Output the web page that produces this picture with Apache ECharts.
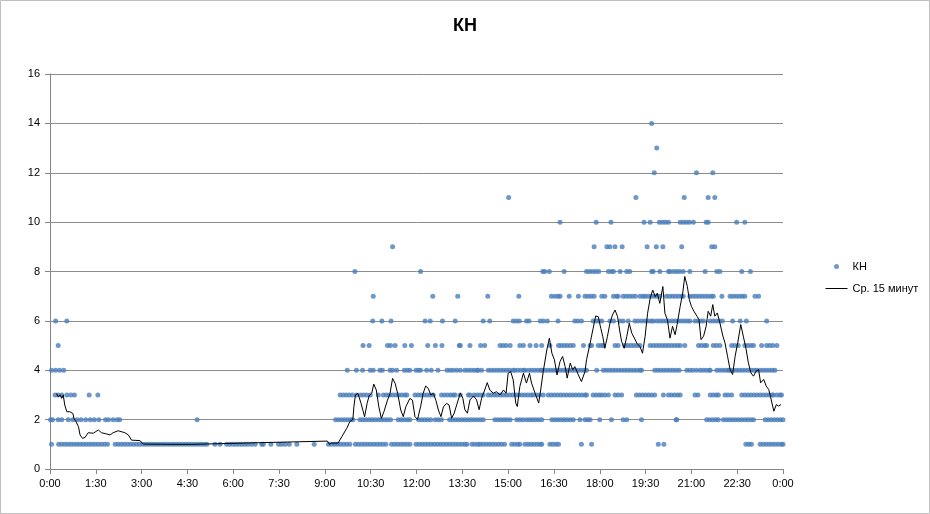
<!DOCTYPE html>
<html>
<head>
    <meta charset="utf-8">
    <title>КН</title>
    <script src="https://cdn.jsdelivr.net/npm/echarts@6/dist/echarts.min.js"></script>
</head>
<body style="margin:0">
<div id="main" style="width: 930px;height:514px;"></div>
<script type="text/javascript">
    // время в минутах от 0:00, по уровням значения КН
    var lv1 = [3, 17, 23, 29, 35, 41, 47, 53, 59, 65, 71, 77, 83, 89, 95, 101, 107, 113, 128, 134, 140, 146, 152, 158, 164, 170,
        176, 182, 188, 194, 200, 206, 212, 218, 224, 230, 236, 242, 248, 254, 260, 266, 272, 278, 284, 290, 296, 302, 308,
        324, 334, 347, 353, 359, 365, 371, 377, 383, 389, 396, 403, 416, 419, 434, 449, 455, 462, 470, 485, 519,
        547, 553, 559, 565, 571, 577, 583, 589, 600, 606, 612, 618, 624, 630, 636, 642, 648, 654, 660,
        671, 677, 683, 689, 695, 701, 707, 719, 725, 731, 737, 743, 749, 755, 761, 767, 773, 779, 785, 791, 797, 803,
        809, 815, 819, 829, 835, 841, 845, 851, 857, 863, 869, 875, 881, 887, 893, 907, 913, 919, 923,
        933, 939, 945, 951, 957, 963, 966, 982, 988, 994, 999, 1044, 1064, 1195, 1206,
        1367, 1373, 1378, 1395, 1401, 1407, 1413, 1419, 1425, 1431, 1437, 1440];
    var lv2 = [1, 5, 16, 23, 36, 45, 53, 61, 70, 79, 87, 96, 109, 115, 124, 132, 137, 289,
        561, 567, 573, 579, 585, 591, 595, 609, 615, 621, 627, 633, 639, 645, 651, 657, 663, 669,
        684, 690, 696, 702, 707, 724, 730, 736, 742, 748, 757, 763, 769, 785, 791, 797, 803,
        809, 815, 821, 827, 833, 839, 845, 851, 874, 880, 886, 892, 898, 904, 917, 923, 929,
        936, 942, 948, 954, 960, 966, 986, 992, 998, 1004, 1010, 1016, 1022, 1028, 1041, 1051, 1056, 1061,
        1080, 1103, 1126, 1133, 1162, 1230, 1231, 1290, 1296, 1302, 1308, 1313,
        1323, 1329, 1335, 1341, 1347, 1353, 1359, 1365, 1371, 1377, 1382, 1405, 1411, 1417, 1423, 1429, 1435, 1440];
    var lv3 = [10, 16, 23, 33, 41, 48, 77, 94, 570, 576, 582, 588, 594, 602, 610, 616, 622, 629, 645,
        655, 661, 667, 673, 679, 685, 691, 697, 701, 717, 723, 729, 735, 741, 747, 753,
        769, 775, 781, 787, 792, 796, 806, 822, 825, 833, 839, 845, 851,
        861, 867, 873, 879, 885, 891, 897, 903, 909, 915, 921, 927, 933, 939, 945, 949, 956, 962, 969,
        979, 985, 991, 997, 1003, 1009, 1015, 1021, 1027, 1033, 1039, 1045, 1051, 1054, 1067, 1073, 1079, 1084,
        1090, 1097, 1110, 1116, 1123, 1152, 1158, 1164, 1170, 1176, 1182, 1188, 1205, 1215, 1221, 1227, 1233, 1238,
        1267, 1273, 1297, 1303, 1309, 1313, 1326, 1332, 1339,
        1359, 1365, 1371, 1377, 1383, 1389, 1395, 1401, 1407, 1413, 1419, 1421, 1428, 1434, 1437];
    var lv4 = [3, 11, 19, 27, 584, 602, 614, 629, 635, 648, 653, 668, 673, 681, 696, 702, 707, 719, 724, 728,
        740, 749, 762, 780, 786, 792, 799, 806, 815, 821, 827, 833, 839, 841, 848,
        861, 867, 873, 879, 885, 891, 897, 903, 910, 913, 919, 925, 931, 933, 940, 946, 952, 958, 964, 966,
        972, 978, 984, 990, 996, 1002, 1008, 1014, 1020, 1026, 1032, 1038, 1044, 1050, 1054, 1074,
        1087, 1093, 1099, 1105, 1111, 1117, 1123, 1129, 1135, 1141, 1147, 1153, 1159, 1162,
        1188, 1194, 1200, 1206, 1212, 1218, 1224, 1230, 1236, 1251, 1257, 1263, 1270, 1277, 1283, 1289, 1295, 1297,
        1310, 1316, 1322, 1328, 1333, 1336, 1342, 1348, 1354, 1360, 1366, 1372, 1378, 1384, 1388,
        1395, 1401, 1407, 1413, 1419, 1424];
    var lv5 = [16, 615, 627, 663, 669, 678, 697, 710, 742, 757, 770, 804, 806, 825, 846, 854, 884, 890, 896, 904,
        923, 930, 943, 955, 966, 982, 999, 1004, 1010, 1016, 1022, 1028, 1048, 1061, 1064, 1077, 1083, 1087,
        1110, 1116, 1129, 1135, 1141, 1147, 1153, 1159, 1179, 1185, 1191, 1197, 1203, 1209, 1215, 1221, 1227, 1233, 1238,
        1247, 1274, 1280, 1286, 1290, 1303, 1309, 1316, 1339, 1345, 1352, 1365, 1371, 1377, 1382,
        1398, 1408, 1414, 1420, 1428];
    var lv6 = [11, 33, 634, 652, 670, 737, 747, 771, 796, 851, 864, 910, 916, 922, 936, 941, 963, 969, 977, 998,
        1031, 1037, 1044, 1067, 1073, 1079, 1084, 1100, 1107, 1120, 1126, 1136, 1149, 1155, 1162,
        1169, 1175, 1181, 1185, 1192, 1198, 1204, 1210, 1216, 1222, 1228, 1234, 1240, 1246, 1252, 1257,
        1267, 1273, 1279, 1284, 1297, 1303, 1309, 1315, 1321, 1341, 1356, 1368, 1408];
    var lv7 = [635, 752, 801, 860, 921, 985, 992, 998, 1002, 1020, 1038, 1051, 1057, 1063, 1069, 1084, 1090,
        1107, 1113, 1116, 1126, 1132, 1138, 1144, 1150, 1159, 1165, 1169, 1175, 1181, 1187, 1192, 1198,
        1211, 1217, 1223, 1229, 1235, 1241, 1244, 1257, 1263, 1269, 1275, 1281, 1287, 1293, 1299, 1303,
        1320, 1336, 1342, 1348, 1354, 1360, 1365, 1385, 1392];
    var lv8 = [599, 728, 968, 972, 981, 1010, 1054, 1060, 1066, 1072, 1078, 1097, 1103, 1107, 1120, 1133, 1139,
        1182, 1185, 1198, 1215, 1218, 1225, 1231, 1237, 1244, 1257, 1287, 1310, 1316, 1359, 1376];
    var lv9 = [673, 1069, 1094, 1100, 1110, 1124, 1173, 1191, 1204, 1241, 1300, 1306];
    var lv10 = [1002, 1073, 1102, 1167, 1179, 1197, 1203, 1209, 1215, 1238, 1244, 1250, 1256, 1264, 1289, 1293, 1349, 1365];
    var lv11 = [901, 1151, 1246, 1293, 1306];
    var lv12 = [1187, 1270, 1302];
    var lv13 = [1192];
    var lv14 = [1182];

    // скользящее среднее за 15 минут: [минута, значение]
    var avg15 = [[13, 3.06], [16, 2.93], [20, 3.0], [23, 2.86], [26, 3.0], [29, 2.59], [33, 2.32], [39, 2.32], [45, 2.25],
        [47, 2.05], [51, 1.92], [56, 1.71], [59, 1.38], [64, 1.24], [69, 1.28], [75, 1.47], [85, 1.45], [95, 1.58],
        [101, 1.47], [111, 1.42], [118, 1.38], [124, 1.47], [134, 1.55], [147, 1.47], [154, 1.38], [160, 1.17],
        [177, 1.15], [183, 1.01], [236, 1.0], [281, 1.0], [283, 1.05], [380, 1.05], [382, 1.13], [545, 1.13],
        [549, 1.0], [553, 1.05], [566, 1.05], [573, 1.3], [583, 1.65], [589, 1.92], [595, 2.01], [597, 2.52],
        [600, 3.0], [605, 3.06], [611, 2.66], [618, 2.12], [623, 2.66], [627, 2.97], [632, 3.06], [636, 3.44],
        [641, 3.2], [646, 2.52], [651, 2.05], [656, 2.32], [663, 2.79], [668, 3.06], [673, 3.67], [678, 3.47],
        [683, 3.06], [689, 2.39], [694, 2.12], [699, 2.52], [707, 2.86], [712, 2.79], [717, 2.12], [722, 2.01],
        [728, 2.52], [733, 3.06], [738, 3.36], [743, 3.27], [748, 3.0], [753, 3.06], [758, 2.79], [763, 2.39],
        [768, 2.12], [773, 2.52], [779, 2.66], [784, 2.59], [789, 2.06], [794, 2.26], [799, 2.6], [806, 3.07],
        [811, 2.87], [815, 2.4], [820, 2.26], [825, 2.8], [832, 2.96], [838, 2.8], [843, 2.4], [848, 2.87],
        [854, 3.2], [859, 3.5], [864, 3.2], [871, 3.07], [877, 3.13], [884, 3.0], [891, 3.2], [896, 3.07],
        [900, 3.88], [905, 3.95], [910, 3.61], [915, 2.67], [918, 2.53], [923, 3.34], [930, 3.88], [936, 3.48],
        [942, 3.88], [946, 3.48], [953, 3.07], [960, 2.67], [964, 3.2], [969, 3.95], [976, 4.82], [981, 5.3],
        [986, 4.69], [991, 4.42], [996, 3.81], [1002, 4.36], [1007, 4.56], [1012, 4.15], [1016, 3.68], [1022, 4.29],
        [1027, 4.02], [1031, 4.15], [1038, 3.81], [1044, 3.54], [1051, 3.95], [1054, 4.42], [1061, 5.09],
        [1067, 5.7], [1072, 6.2], [1077, 6.17], [1082, 5.7], [1086, 5.36], [1090, 4.89], [1095, 5.36], [1100, 5.9],
        [1105, 6.24], [1110, 6.44], [1115, 6.17], [1119, 5.63], [1123, 5.16], [1128, 4.89], [1133, 5.36],
        [1138, 5.9], [1143, 5.5], [1148, 5.3], [1153, 5.09], [1159, 4.96], [1164, 4.69], [1169, 5.36], [1174, 6.31],
        [1179, 6.91], [1184, 7.25], [1189, 6.98], [1193, 7.12], [1198, 6.71], [1204, 7.39], [1208, 6.31],
        [1213, 6.04], [1218, 5.3], [1223, 5.78], [1228, 5.44], [1232, 5.85], [1238, 6.59], [1243, 7.13],
        [1247, 7.8], [1252, 7.4], [1256, 6.86], [1260, 6.59], [1265, 6.39], [1271, 6.19], [1275, 6.05],
        [1279, 5.24], [1284, 5.38], [1289, 5.78], [1293, 6.39], [1298, 6.19], [1302, 6.66], [1306, 6.19],
        [1311, 6.32], [1316, 5.92], [1322, 5.38], [1326, 5.11], [1331, 4.57], [1336, 4.03], [1341, 3.83],
        [1346, 4.57], [1351, 5.11], [1357, 5.85], [1362, 5.38], [1367, 4.91], [1372, 4.3], [1377, 3.89],
        [1382, 3.76], [1387, 3.96], [1392, 4.03], [1396, 3.49], [1402, 3.63], [1407, 3.36], [1412, 3.22],
        [1416, 2.88], [1422, 2.34], [1427, 2.61], [1431, 2.55], [1436, 2.61]];

    var levels = [lv1, lv2, lv3, lv4, lv5, lv6, lv7, lv8, lv9, lv10, lv11, lv12, lv13, lv14];
    var points = [];
    levels.forEach(function (arr, i) {
        arr.forEach(function (t) {
            points.push([t, i + 1]);
        });
    });

    function fmtTime(v) {
        var h = Math.floor(v / 60) % 24;
        var m = v % 60;
        return h + ':' + (m < 10 ? '0' : '') + m;
    }

    var myChart = echarts.init(document.getElementById('main'));
    var option = {
        backgroundColor: '#fff',
        animation: false,
        textStyle: {fontFamily: 'Liberation Sans'},
        title: {
            text: 'КН',
            left: 'center',
            top: 12,
            textStyle: {fontSize: 18, fontWeight: 'bold', color: '#000'}
        },
        graphic: [{
            type: 'rect',
            shape: {x: 0.5, y: 0.5, width: 929, height: 513},
            style: {fill: 'none', stroke: '#bfbfbf', lineWidth: 1}
        }],
        legend: {
            orient: 'vertical',
            left: 820,
            top: 256,
            itemWidth: 22,
            itemHeight: 5,
            itemGap: 11,
            textStyle: {fontSize: 11, color: '#000'},
            data: [
                {name: 'КН', icon: 'circle'},
                {
                    name: 'Ср. 15 минут',
                    itemStyle: {color: 'rgba(0,0,0,0)', borderWidth: 0},
                    lineStyle: {width: 1, color: '#000'}
                }
            ]
        },
        grid: {left: 50, right: 147, top: 74, bottom: 45},
        xAxis: {
            type: 'value',
            min: 0,
            max: 1440,
            interval: 90,
            axisLine: {lineStyle: {color: '#868686'}},
            axisTick: {show: true, length: 5, lineStyle: {color: '#868686'}},
            axisLabel: {color: '#000', fontSize: 11, margin: 9, formatter: fmtTime},
            splitLine: {show: false}
        },
        yAxis: {
            type: 'value',
            min: 0,
            max: 16,
            interval: 2,
            axisLine: {show: true, lineStyle: {color: '#868686'}},
            axisTick: {show: true, length: 5, lineStyle: {color: '#868686'}},
            axisLabel: {color: '#000', fontSize: 11, margin: 10},
            splitLine: {lineStyle: {color: '#8c8c8c'}}
        },
        series: [{
            name: 'КН',
            type: 'scatter',
            symbolSize: 5,
            itemStyle: {color: '#4a7ebb'},
            data: points
        }, {
            name: 'Ср. 15 минут',
            type: 'line',
            symbol: 'none',
            lineStyle: {color: '#000', width: 1},
            itemStyle: {color: '#000'},
            data: avg15
        }]
    };
    myChart.setOption(option);
</script>
</body>
</html>
